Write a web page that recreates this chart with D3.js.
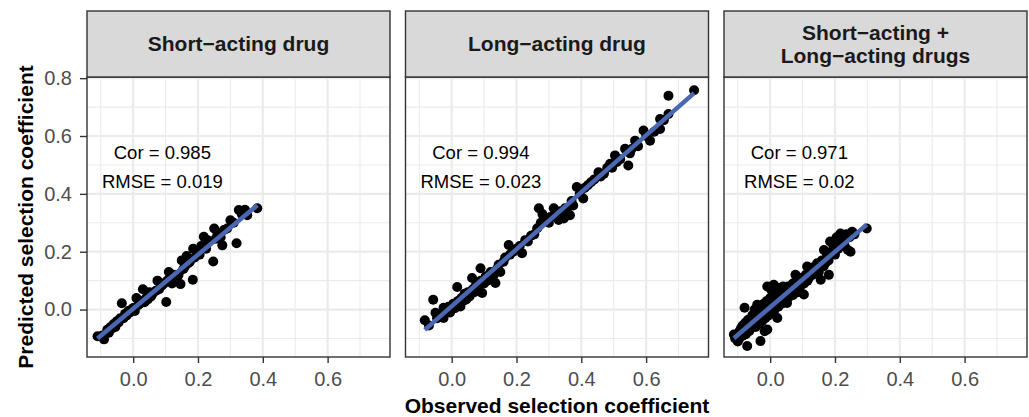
<!DOCTYPE html>
<html>
<head>
<meta charset="utf-8">
<script src="https://cdn.jsdelivr.net/npm/d3@7/dist/d3.min.js"></script>
<style>
  html, body { margin: 0; padding: 0; background: #fff; }
  svg { display: block; font-family: "Liberation Sans", Arial, sans-serif; }
</style>
</head>
<body>
<svg id="chart" width="1029" height="417"></svg>
<script>
// Facet titles (third title spans two lines)
const panelTitles = [["Short\u2212acting drug"], ["Long\u2212acting drug"], ["Short\u2212acting +", "Long\u2212acting drugs"]];
const corLabels = ["Cor = 0.985", "Cor = 0.994", "Cor = 0.971"];
const rmseLabels = ["RMSE = 0.019", "RMSE = 0.023", "RMSE = 0.02"];
const xTicks = [0.0, 0.2, 0.4, 0.6];
const yTicks = [0.0, 0.2, 0.4, 0.6, 0.8];
const xMinor = [-0.1, 0.1, 0.3, 0.5, 0.7];
const yMinor = [-0.1, 0.1, 0.3, 0.5, 0.7];

// [observed, predicted] selection coefficients
const shortActing = [
  [-0.11, -0.092], [-0.09, -0.103], [-0.095, -0.09], [-0.08, -0.07], [-0.075, -0.08],
  [-0.07, -0.06], [-0.065, -0.065], [-0.06, -0.05], [-0.055, -0.06], [-0.05, -0.04],
  [-0.045, -0.045], [-0.04, -0.03], [-0.035, 0.022], [-0.03, -0.03], [-0.025, -0.015],
  [-0.02, -0.02], [-0.015, -0.005], [-0.01, -0.01], [-0.005, 0.0], [0.0, 0.005],
  [0.005, -0.005], [0.01, 0.04], [0.015, 0.015], [0.02, 0.02], [0.025, 0.03],
  [0.03, 0.07], [0.035, 0.025], [0.04, 0.04], [0.045, 0.035], [0.05, 0.06],
  [0.055, 0.045], [0.06, 0.055], [0.07, 0.065], [0.075, 0.10], [0.08, 0.07],
  [0.085, 0.08], [0.09, 0.085], [0.095, 0.09], [0.102, 0.026], [0.105, 0.10],
  [0.11, 0.13], [0.115, 0.11], [0.12, 0.09], [0.125, 0.12], [0.13, 0.115],
  [0.14, 0.12], [0.146, 0.088], [0.15, 0.17], [0.155, 0.14], [0.16, 0.15],
  [0.165, 0.185], [0.17, 0.16], [0.175, 0.165], [0.184, 0.103], [0.185, 0.21],
  [0.19, 0.18], [0.2, 0.195], [0.205, 0.19], [0.21, 0.22], [0.218, 0.252],
  [0.225, 0.21], [0.23, 0.24], [0.247, 0.166], [0.25, 0.28], [0.255, 0.245],
  [0.26, 0.26], [0.27, 0.25], [0.275, 0.222], [0.28, 0.275], [0.29, 0.28],
  [0.30, 0.309], [0.31, 0.30], [0.319, 0.229], [0.326, 0.344], [0.335, 0.33],
  [0.345, 0.345], [0.352, 0.326], [0.383, 0.35]
];

const longActing = [
  [-0.083, -0.037], [-0.07, -0.055], [-0.057, 0.034], [-0.05, -0.011], [-0.045, -0.03],
  [-0.035, -0.02], [-0.025, 0.006], [-0.025, -0.029], [-0.015, -0.005], [-0.01, 0.01],
  [-0.005, -0.01], [0.0, 0.0], [0.005, 0.02], [0.01, 0.005], [0.017, 0.078],
  [0.02, 0.03], [0.027, 0.011], [0.03, 0.04], [0.035, 0.03], [0.04, 0.055],
  [0.045, 0.035], [0.05, 0.06], [0.055, 0.045], [0.063, 0.109], [0.065, 0.07],
  [0.07, 0.06], [0.075, 0.085], [0.08, 0.07], [0.089, 0.143], [0.09, 0.1],
  [0.094, 0.057], [0.1, 0.09], [0.105, 0.115], [0.11, 0.1], [0.12, 0.13],
  [0.125, 0.11], [0.13, 0.12], [0.135, 0.092], [0.14, 0.14], [0.145, 0.155],
  [0.15, 0.13], [0.16, 0.165], [0.165, 0.18], [0.176, 0.223], [0.18, 0.19],
  [0.19, 0.2], [0.2, 0.21], [0.21, 0.22], [0.217, 0.195], [0.227, 0.24],
  [0.235, 0.235], [0.245, 0.255], [0.255, 0.26], [0.264, 0.281], [0.269, 0.35],
  [0.275, 0.3], [0.28, 0.33], [0.29, 0.31], [0.3, 0.3], [0.305, 0.32],
  [0.315, 0.35], [0.32, 0.33], [0.33, 0.31], [0.335, 0.34], [0.346, 0.315],
  [0.35, 0.35], [0.355, 0.345], [0.365, 0.326], [0.37, 0.375], [0.375, 0.36],
  [0.386, 0.424], [0.395, 0.4], [0.406, 0.384], [0.41, 0.42], [0.42, 0.43],
  [0.43, 0.44], [0.44, 0.45], [0.453, 0.475], [0.46, 0.46], [0.47, 0.47],
  [0.48, 0.49], [0.489, 0.504], [0.495, 0.49], [0.504, 0.533], [0.51, 0.51],
  [0.52, 0.52], [0.535, 0.556], [0.545, 0.498], [0.55, 0.54], [0.555, 0.555],
  [0.566, 0.584], [0.575, 0.565], [0.592, 0.619], [0.6, 0.6], [0.612, 0.584],
  [0.625, 0.615], [0.643, 0.624], [0.643, 0.659], [0.655, 0.655], [0.669, 0.676],
  [0.669, 0.739], [0.748, 0.758]
];

const combined = [
  [-0.112, -0.086], [-0.108, -0.1], [-0.105, -0.095], [-0.1, -0.085], [-0.1, -0.11],
  [-0.095, -0.075], [-0.095, -0.1], [-0.09, -0.08], [-0.09, -0.065], [-0.085, -0.09],
  [-0.085, -0.055], [-0.08, -0.07], [-0.079, 0.006], [-0.076, -0.045], [-0.075, -0.085],
  [-0.071, -0.126], [-0.07, -0.06], [-0.068, -0.035], [-0.065, -0.05], [-0.065, -0.075],
  [-0.06, -0.04], [-0.06, -0.065], [-0.055, -0.02], [-0.055, -0.055], [-0.05, -0.03],
  [-0.05, -0.045], [-0.048, 0.0], [-0.045, -0.06], [-0.04, 0.017], [-0.04, -0.035],
  [-0.038, -0.015], [-0.035, -0.05], [-0.03, -0.109], [-0.03, 0.01], [-0.03, -0.025],
  [-0.025, -0.04], [-0.02, 0.02], [-0.02, -0.01], [-0.017, -0.075], [-0.015, -0.03],
  [-0.01, 0.03], [-0.009, 0.08], [-0.009, -0.069], [-0.005, 0.0], [-0.005, -0.02],
  [0.0, 0.04], [0.0, -0.01], [0.003, 0.069], [0.005, 0.015], [0.01, 0.05],
  [0.011, 0.086], [0.012, -0.005], [0.015, 0.025], [0.02, 0.06], [0.022, -0.029],
  [0.022, 0.057], [0.025, 0.01], [0.03, 0.04], [0.03, 0.075], [0.035, 0.02],
  [0.04, 0.05], [0.04, 0.08], [0.045, 0.035], [0.05, 0.06], [0.052, 0.023],
  [0.055, 0.08], [0.06, 0.045], [0.06, 0.065], [0.065, 0.075], [0.07, 0.05],
  [0.07, 0.09], [0.075, 0.065], [0.078, 0.12], [0.08, 0.08], [0.085, 0.095],
  [0.085, 0.06], [0.09, 0.07], [0.09, 0.11], [0.095, 0.085], [0.1, 0.1],
  [0.104, 0.052], [0.105, 0.09], [0.11, 0.12], [0.114, 0.149], [0.115, 0.1],
  [0.12, 0.11], [0.125, 0.13], [0.13, 0.12], [0.13, 0.145], [0.135, 0.125],
  [0.14, 0.14], [0.145, 0.16], [0.15, 0.13], [0.155, 0.15], [0.156, 0.103],
  [0.16, 0.17], [0.165, 0.15], [0.166, 0.206], [0.17, 0.16], [0.175, 0.19],
  [0.18, 0.17], [0.181, 0.12], [0.185, 0.235], [0.19, 0.2], [0.195, 0.22],
  [0.2, 0.19], [0.205, 0.25], [0.21, 0.21], [0.217, 0.263], [0.22, 0.23],
  [0.225, 0.255], [0.23, 0.22], [0.235, 0.26], [0.24, 0.206], [0.245, 0.25],
  [0.248, 0.2], [0.253, 0.269], [0.26, 0.26], [0.298, 0.28]
];

const panelData = [shortActing, longActing, combined];

const svg = d3.select("#chart");
const panelLefts = [87, 405.5, 724];
const panelW = 303;
const stripTop = 11, stripBottom = 77, panelBottom = 357;

const x = d3.scaleLinear().domain([-0.1425, 0.7925]).range([0, panelW]);
const y = d3.scaleLinear().domain([-0.164, 0.804]).range([panelBottom, stripBottom]);

const tickColor = "#333333";
const gridColor = "#ebebeb";
const fontStack = "Liberation Sans, Arial, sans-serif";

// ordinary least squares fit
function lmFit(pts) {
  const mx = d3.mean(pts, d => d[0]);
  const my = d3.mean(pts, d => d[1]);
  const sxy = d3.sum(pts, d => (d[0] - mx) * (d[1] - my));
  const sxx = d3.sum(pts, d => (d[0] - mx) ** 2);
  const b = sxy / sxx;
  return { a: my - b * mx, b };
}

panelData.forEach((pts, i) => {
  const g = svg.append("g").attr("transform", `translate(${panelLefts[i]},0)`);

  // grid
  g.selectAll(".xminor").data(xMinor).join("line")
    .attr("x1", d => x(d)).attr("x2", d => x(d)).attr("y1", stripBottom).attr("y2", panelBottom)
    .attr("stroke", gridColor).attr("stroke-width", 1.1);
  g.selectAll(".yminor").data(yMinor).join("line")
    .attr("y1", d => y(d)).attr("y2", d => y(d)).attr("x1", 0).attr("x2", panelW)
    .attr("stroke", gridColor).attr("stroke-width", 1.1);
  g.selectAll(".xmajor").data(xTicks).join("line")
    .attr("x1", d => x(d)).attr("x2", d => x(d)).attr("y1", stripBottom).attr("y2", panelBottom)
    .attr("stroke", gridColor).attr("stroke-width", 2.2);
  g.selectAll(".ymajor").data(yTicks).join("line")
    .attr("y1", d => y(d)).attr("y2", d => y(d)).attr("x1", 0).attr("x2", panelW)
    .attr("stroke", gridColor).attr("stroke-width", 2.2);

  // points
  g.append("g").selectAll("circle").data(pts).join("circle")
    .attr("cx", d => x(d[0])).attr("cy", d => y(d[1])).attr("r", 5)
    .attr("fill", "#000");

  // linear fit over observed range
  const fit = lmFit(pts);
  const xs = d3.extent(pts, d => d[0]);
  g.append("line")
    .attr("x1", x(xs[0])).attr("y1", y(fit.a + fit.b * xs[0]))
    .attr("x2", x(xs[1])).attr("y2", y(fit.a + fit.b * xs[1]))
    .attr("stroke", "#4A68B2").attr("stroke-width", 4.5);

  // stats labels
  g.append("text").attr("x", x(0.09)).attr("y", y(0.543)).attr("dy", "0.35em")
    .attr("text-anchor", "middle").attr("font-size", 18.5).attr("fill", "#000").text(corLabels[i]);
  g.append("text").attr("x", x(0.09)).attr("y", y(0.443)).attr("dy", "0.35em")
    .attr("text-anchor", "middle").attr("font-size", 18.5).attr("fill", "#000").text(rmseLabels[i]);

  // panel border
  g.append("rect").attr("x", 0).attr("y", stripBottom).attr("width", panelW)
    .attr("height", panelBottom - stripBottom).attr("fill", "none")
    .attr("stroke", tickColor).attr("stroke-width", 1.4);

  // strip
  g.append("rect").attr("x", 0).attr("y", stripTop).attr("width", panelW)
    .attr("height", stripBottom - stripTop).attr("fill", "#d9d9d9")
    .attr("stroke", tickColor).attr("stroke-width", 1.4);
  const lines = panelTitles[i];
  const cy = (stripTop + stripBottom) / 2;
  const lh = 23;
  lines.forEach((t, k) => {
    g.append("text").attr("x", panelW / 2)
      .attr("y", cy + (k - (lines.length - 1) / 2) * lh).attr("dy", "0.35em")
      .attr("text-anchor", "middle").attr("font-size", 21).attr("font-weight", "bold")
      .attr("fill", "#1a1a1a").text(t);
  });

  // x axis
  const xa = g.append("g").attr("transform", `translate(0,${panelBottom})`)
    .call(d3.axisBottom(x).tickValues(xTicks).tickFormat(d3.format(".1f")).tickSize(6).tickPadding(9));
  xa.select(".domain").remove();
  xa.selectAll("line").attr("stroke", tickColor).attr("stroke-width", 1.4);
  xa.selectAll("text").attr("font-size", 20).attr("fill", "#4d4d4d").attr("font-family", fontStack);
});

// y axis on the first panel only
const ya = svg.append("g").attr("transform", `translate(${panelLefts[0]},0)`)
  .call(d3.axisLeft(y).tickValues(yTicks).tickFormat(d3.format(".1f")).tickSize(7).tickPadding(8));
ya.select(".domain").remove();
ya.selectAll("line").attr("stroke", tickColor).attr("stroke-width", 1.4);
ya.selectAll("text").attr("font-size", 20).attr("fill", "#4d4d4d").attr("font-family", fontStack);

// axis titles
svg.append("text").attr("x", (panelLefts[0] + panelLefts[2] + panelW) / 2).attr("y", 413)
  .attr("text-anchor", "middle").attr("font-size", 21).attr("font-weight", "bold")
  .attr("fill", "#000").text("Observed selection coefficient");
svg.append("text").attr("transform", `translate(33,${(stripBottom + panelBottom) / 2}) rotate(-90)`)
  .attr("text-anchor", "middle").attr("font-size", 21).attr("font-weight", "bold")
  .attr("fill", "#000").text("Predicted selection coefficient");
</script>
</body>
</html>
